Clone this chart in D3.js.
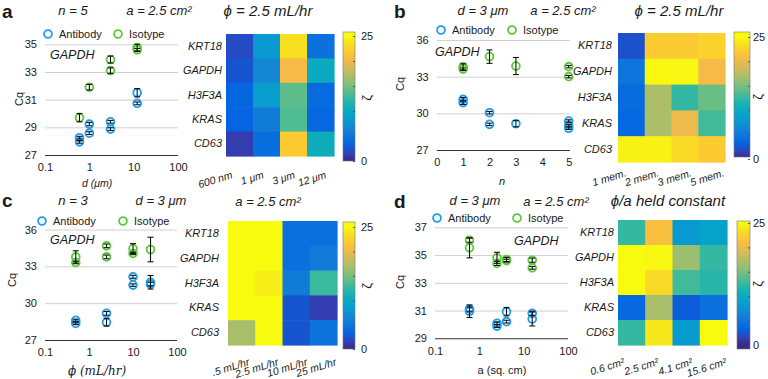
<!DOCTYPE html>
<html><head><meta charset="utf-8">
<script src="https://cdn.jsdelivr.net/npm/d3@7"></script>
<style>
body{margin:0;background:#fff}
</style></head><body>
<svg id="chart" width="768" height="379"></svg>
<script>
// ---------------- DATA ----------------
const genes = ["KRT18","GAPDH","H3F3A","KRAS","CD63"];
const seriesNames = ["Antibody","Isotype"];

// panel a : vary d (µm)
const aXTicks = [0.1,1,10,100];
const aYTicks = [27,29,31,33,35];
const aAntibody = [[0.6,28.25,0.1],[0.6,27.95,0.1],[1,29.23,0.12],[1,28.58,0.1],[3,29.4,0.1],[3,28.87,0.1],[12,31.5,0.3],[12,30.73,0.1]];
const aIsotype  = [[0.6,29.7,0.3],[1,31.9,0.2],[3,33.9,0.25],[3,33.1,0.2],[12,34.75,0.25],[12,34.6,0.1]];
const aCols = ["600 nm","1 μm","3 μm","12 μm"];
const aHeat = [[2,8,23.5,4.5],[2.5,6.5,20.5,10],[3.5,8.5,14,3.8],[3.3,5.5,13.5,3.6],[1.2,4.2,22,10.5]];

// panel b : vary n (membranes)
const bXTicks = [0,1,2,3,4,5];
const bYTicks = [27,30,33,36];
const bAntibody = [[1,31.15,0.15],[1,30.87,0.15],[2,30.05,0.1],[2,29.1,0.1],[3,29.15,0.25],[5,29.37,0.1],[5,29.0,0.1],[5,28.78,0.1]];
const bIsotype  = [[1,33.8,0.25],[1,33.62,0.1],[2,34.64,0.55],[3,33.87,0.7],[5,33.82,0.1],[5,33.0,0.1]];
const bCols = ["1 mem.","2 mem.","3 mem.","5 mem."];
const bHeat = [[2.3,22,22,22.5],[4.8,24.8,24.8,20.5],[4,17,12.5,14.5],[3.6,17,20,13],[24.5,24.5,23,22]];

// panel c : vary flow rate phi (mL/hr)
const cXTicks = [0.1,1,10,100];
const cYTicks = [27,30,33,36];
const cAntibody = [[0.5,28.6,0.1],[0.5,28.35,0.1],[2.5,29.17,0.15],[2.5,28.44,0.3],[10,32.15,0.12],[10,31.47,0.1],[25,31.7,0.55],[25,31.55,0.15]];
const cIsotype  = [[0.5,33.77,0.5],[0.5,33.31,0.1],[2.5,34.67,0.15],[2.5,33.77,0.15],[10,34.45,0.4],[10,34.05,0.1],[25,34.37,1.0]];
const cCols = [".5 mL/hr","2.5 mL/hr","10 mL/hr","25 mL/hr"];
const cHeat = [[25,25,4.3,4.3],[25,25,4.3,5.3],[25,24.3,5.5,12.8],[25,25,2.5,1.3],[16.8,25,2.5,4.6]];

// panel d : vary area a (sq. cm)
const dXTicks = [0.1,1,10,100];
const dYTicks = [29,31,33,35,37];
const dAntibody = [[0.6,31.1,0.15],[0.6,30.95,0.45],[2.5,30.08,0.1],[2.5,29.88,0.1],[4.1,30.92,0.3],[4.1,30.2,0.1],[15.6,30.8,0.15],[15.6,30.39,0.5]];
const dIsotype  = [[0.6,36.07,0.15],[0.6,35.52,0.72],[2.5,34.8,0.4],[2.5,34.4,0.15],[4.1,34.68,0.15],[4.1,34.6,0.1],[15.6,34.63,0.15],[15.6,34.08,0.1]];
const dCols = ["0.6 cm²","2.5 cm²","4.1 cm²","15.6 cm²"];
const dHeat = [[12.5,21,8,9],[25,24.8,16.3,12.5],[25,23,13,12],[3.7,16.8,2.9,4.3],[12.5,24,8.3,25]];

const zMax = 25;

// ---------------- STYLE ----------------
const FONT = "'Liberation Sans', Arial, Helvetica, sans-serif";
const SERIF = "'DejaVu Serif', 'Liberation Serif', serif";
const colAb = "#1f9cf0", colIso = "#5cc93a";
const parulaRGB = [
 [0,.2081,.1663,.5292],[4,.1959,.2645,.7279],[8,.0117,.3875,.8820],[12,.0498,.4586,.8641],
 [16,.0793,.5200,.8312],[20,.0343,.5966,.8199],[24,.0228,.6535,.7768],[28,.0843,.6928,.7062],
 [32,.2178,.7250,.6193],[36,.3953,.7459,.5244],[40,.5709,.7485,.4494],[44,.7184,.7411,.3905],
 [48,.8507,.7299,.3360],[52,.9739,.7314,.2666],[56,.9880,.8066,.1794],[60,.9589,.8949,.1132],
 [63,.9763,.9831,.0538]];
const parula = d3.scaleLinear()
  .domain(parulaRGB.map(p => p[0]/63*zMax))
  .range(parulaRGB.map(p => d3.rgb(p[1]*255,p[2]*255,p[3]*255).formatHex()))
  .interpolate(d3.interpolateRgb).clamp(true);

const svg = d3.select("#chart");
const defs = svg.append("defs");

function txt(x,y,s,o={}){
  return svg.append("text").attr("x",x).attr("y",y).text(s)
    .attr("font-family",o.family||FONT).attr("font-size",o.size||11)
    .attr("font-style",o.italic?"italic":"normal").attr("font-weight",o.bold?"bold":"normal")
    .attr("text-anchor",o.anchor||"start").attr("fill","#1a1a1a");
}

// ---------------- SCATTER ----------------
function scatter(o){
  const g = svg.append("g");
  const x = (o.log ? d3.scaleLog() : d3.scaleLinear()).domain(o.xd).range(o.xr);
  const y = d3.scaleLinear().domain(o.yd).range(o.yr);
  const gridW = o.gridEnd - o.xr[0];
  const gy = g.append("g").attr("transform",`translate(${o.xr[0]},0)`)
    .call(d3.axisLeft(y).tickValues(o.yt).tickSize(-gridW).tickPadding(8).tickFormat(d3.format("d")));
  gy.attr("font-family",FONT).attr("font-size",11).attr("color","#1a1a1a");
  gy.select(".domain").remove();
  gy.selectAll(".tick line").attr("stroke", d => d===o.yd[0] ? "#333" : "#d0d0d0").attr("stroke-width", d => d===o.yd[0]?1.1:1);
  const gx = g.append("g").attr("transform",`translate(0,${o.yr[0]})`)
    .call(d3.axisBottom(x).tickValues(o.xt).tickSize(0).tickPadding(8.5).tickFormat(o.xf || (d=>d)));
  gx.attr("font-family",FONT).attr("font-size",11).attr("color","#1a1a1a");
  gx.select(".domain").remove();

  // markers
  const series = [[o.ab,colAb],[o.iso,colIso]];
  series.forEach(([pts,col]) => {
    g.selectAll(null).data(pts).enter().append("circle")
      .attr("cx",d=>x(d[0])).attr("cy",d=>y(d[1])).attr("r",3.9)
      .attr("fill","none").attr("stroke",col).attr("stroke-width",1.8);
  });
  series.forEach(([pts]) => {
    const eb = g.selectAll(null).data(pts).enter().append("g").attr("stroke","#111").attr("stroke-width",1.1);
    eb.append("line").attr("x1",d=>x(d[0])).attr("x2",d=>x(d[0])).attr("y1",d=>y(d[1]-d[2])).attr("y2",d=>y(d[1]+d[2]));
    eb.append("line").attr("x1",d=>x(d[0])-3).attr("x2",d=>x(d[0])+3).attr("y1",d=>y(d[1]-d[2])).attr("y2",d=>y(d[1]-d[2]));
    eb.append("line").attr("x1",d=>x(d[0])-3).attr("x2",d=>x(d[0])+3).attr("y1",d=>y(d[1]+d[2])).attr("y2",d=>y(d[1]+d[2]));
  });

  // labels
  txt(0,0,"Cq").attr("transform",`translate(${o.cq[0]},${o.cq[1]}) rotate(-90)`).attr("text-anchor","middle").attr("dy","0.35em");
  txt(o.xl[0],o.xl[1],o.xlabel,{anchor:"middle",italic:o.xlItalic,family:o.xlFamily,size:o.xlSize||10.5});
  // legend
  [[o.leg[0],colAb,seriesNames[0]],[o.leg[2],colIso,seriesNames[1]]].forEach(([lx,col,name])=>{
    svg.append("circle").attr("cx",lx).attr("cy",o.leg[1]).attr("r",3.9).attr("fill","none").attr("stroke",col).attr("stroke-width",1.8);
    txt(lx+11,o.leg[1]+4,name,{size:11});
  });
  txt(o.gl[0],o.gl[1],"GAPDH",{italic:true,size:12.5});
}

// ---------------- HEATMAP ----------------
function heat(o){
  const g = svg.append("g");
  const x = d3.scaleBand().domain(o.cols).range([o.x0,o.x1]);
  const y = d3.scaleBand().domain(genes).range([o.y0,o.y1]);
  const cells = [];
  o.vals.forEach((row,r)=>row.forEach((v,c)=>cells.push({g:genes[r],c:o.cols[c],v})));
  g.selectAll(null).data(cells).enter().append("rect")
    .attr("x",d=>x(d.c)).attr("y",d=>y(d.g))
    .attr("width",x.bandwidth()+0.6).attr("height",y.bandwidth()+0.6)
    .attr("fill",d=>parula(d.v));
  const gy = g.append("g").attr("transform",`translate(${o.x0},0)`)
    .call(d3.axisLeft(y).tickSize(0).tickPadding(o.x0-o.labEnd));
  gy.attr("font-family",FONT).attr("font-size",11).attr("font-style","italic").attr("color","#1a1a1a");
  gy.select(".domain").remove();
  // column labels
  const lx = d3.scalePoint().domain(o.cols).range(o.colLab);
  g.selectAll(null).data(o.cols).enter().append("text")
    .attr("transform",d=>`translate(${lx(d)},${o.colLabY}) rotate(-17)`)
    .attr("text-anchor","end").attr("font-family",FONT).attr("font-size",10.5).attr("font-style","italic")
    .attr("fill","#1a1a1a").text(d=>d);
  // colorbar
  const cb = o.cb;
  const cs = d3.scaleLinear().domain([0,zMax]).range([cb.l0,cb.l25]);
  const id = "grad"+o.id;
  const grad = defs.append("linearGradient").attr("id",id).attr("x1",0).attr("y1",1).attr("x2",0).attr("y2",0);
  const H = cb.y1-cb.y0;
  d3.range(0,zMax+0.001,zMax/32).forEach(v=>{
    const off = Math.max(0,Math.min(1,(cb.y1-cs(v))/H));
    grad.append("stop").attr("offset",off).attr("stop-color",parula(v));
  });
  g.append("rect").attr("x",cb.x0).attr("y",cb.y0).attr("width",cb.x1-cb.x0).attr("height",H)
    .attr("fill",`url(#${id})`).attr("stroke","#777").attr("stroke-width",0.6);
  const ga = g.append("g").attr("transform",`translate(${cb.x1},0)`)
    .call(d3.axisRight(cs).tickValues(d3.range(0,zMax+1,5)).tickSize(-2).tickPadding(cb.pad)
      .tickFormat(d=> (d===0||d===zMax)? d : ""));
  ga.attr("font-family",FONT).attr("font-size",11).attr("color","#1a1a1a");
  ga.select(".domain").remove();
  ga.selectAll(".tick line").attr("stroke","#555");
  txt(0,0,"ζ",{size:13}).attr("transform",`translate(${cb.zx},${cb.zy}) rotate(-90)`).attr("text-anchor","middle").attr("dy","0.35em");
}

// ---------------- PANELS ----------------
// a
scatter({log:true,xd:[0.1,100],xr:[45,178],gridEnd:178,yd:[27,35],yr:[155,44.3],yt:aYTicks,xt:aXTicks,
  ab:aAntibody,iso:aIsotype,cq:[19,99],xl:[97,187],xlabel:"d (μm)",xlItalic:true,leg:[48,34,118],gl:[50,59]});
heat({id:"a",cols:aCols,vals:aHeat,x0:226,x1:334,y0:34,y1:156,labEnd:222,colLab:[233,327],colLabY:178,
  cb:{x0:343,x1:355,y0:32,y1:161,l0:161,l25:36,pad:6,zx:366,zy:98}});
// b
scatter({log:false,xd:[0,5],xr:[436.7,568.7],gridEnd:570,yd:[27,36],yr:[150,40],yt:bYTicks,xt:bXTicks,
  ab:bAntibody,iso:bIsotype,cq:[400,84],xl:[502,185],xlabel:"n",xlItalic:true,xlSize:11,leg:[441,30,512],gl:[435,56]});
heat({id:"b",cols:bCols,vals:bHeat,x0:618,x1:725,y0:33,y1:162,labEnd:612,colLab:[627,725],colLabY:176,
  cb:{x0:734,x1:750,y0:32,y1:157,l0:159,l25:37,pad:3,zx:757,zy:97}});
// c
scatter({log:true,xd:[0.1,100],xr:[45,177],gridEnd:177,yd:[27,36],yr:[340,229.5],yt:cYTicks,xt:cXTicks,
  ab:cAntibody,iso:cIsotype,cq:[12,280],xl:[97,375],xlabel:"ϕ (mL/hr)",xlItalic:true,xlFamily:SERIF,xlSize:12,leg:[42,221,123],gl:[50,244]});
heat({id:"c",cols:cCols,vals:cHeat,x0:228,x1:337,y0:221,y1:345,labEnd:219,colLab:[250,337],colLabY:365,
  cb:{x0:343,x1:355,y0:222,y1:349,l0:349,l25:227,pad:6,zx:366,zy:286}});
// d
scatter({log:true,xd:[0.1,100],xr:[435,568],gridEnd:568,yd:[29,37],yr:[338.3,227.3],yt:dYTicks,xt:dXTicks,
  ab:dAntibody,iso:dIsotype,cq:[400,282],xl:[502,374],xlabel:"a (sq. cm)",xlItalic:false,xlSize:11,leg:[437,218,517],gl:[514,245]});
heat({id:"d",cols:dCols,vals:dHeat,x0:618,x1:727,y0:220,y1:345,labEnd:614,colLab:[625,727],colLabY:365,
  cb:{x0:737,x1:750,y0:221,y1:349,l0:345,l25:223,pad:3,zx:757,zy:284}});

// ---------------- TITLES ----------------
const T = {italic:true,size:13,anchor:"middle"};
const T2 = {italic:true,size:15,anchor:"middle"};
txt(2,18,"a",{bold:true,size:19});
txt(394,18,"b",{bold:true,size:19});
txt(2,207,"c",{bold:true,size:19});
txt(394,208,"d",{bold:true,size:19});
txt(73,15,"n = 5",T); txt(159,15,"a = 2.5 cm²",T); txt(268,16,"ϕ = 2.5 mL/hr",T2);
txt(483,15,"d = 3 μm",T); txt(563,15,"a = 2.5 cm²",T); txt(679,16,"ϕ = 2.5 mL/hr",T2);
txt(73,205,"n = 3",T); txt(161,205,"d = 3 μm",T); txt(268,206,"a = 2.5 cm²",T);
txt(475,205,"d = 3 μm",T); txt(556,206,"a = 2.5 cm²",T); txt(668,206,"ϕ/a  held constant",T2);
</script>
</body></html>
